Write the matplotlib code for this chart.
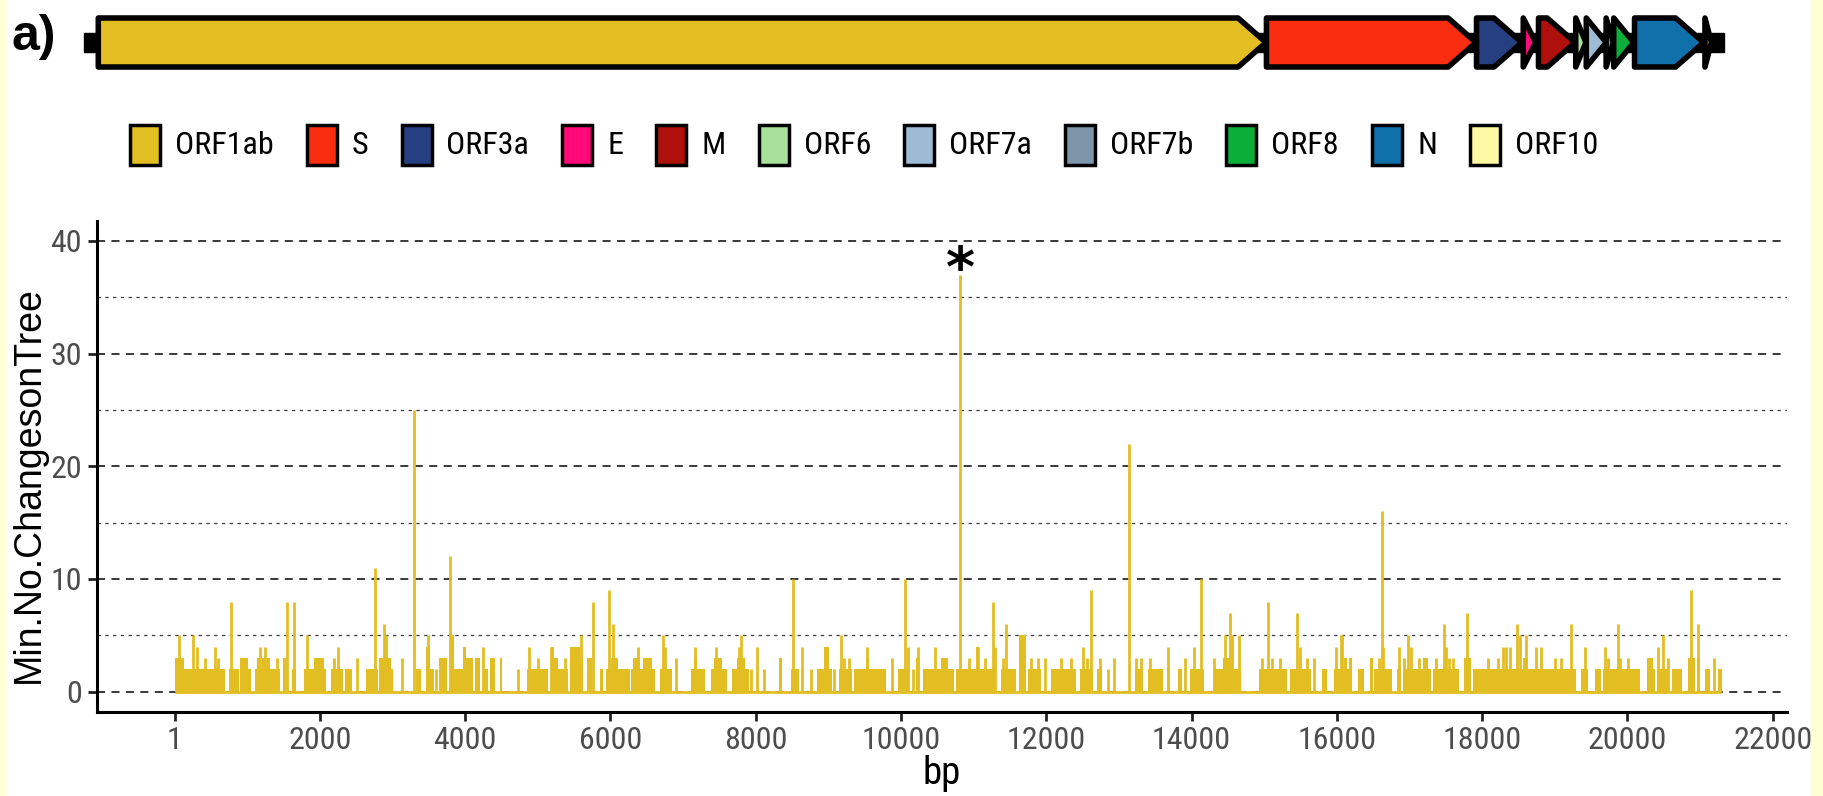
import matplotlib.pyplot as plt
from matplotlib.patches import Polygon, Rectangle

narrow = ['Roboto Condensed', 'Noto Sans Condensed', 'Liberation Sans Narrow', 'Liberation Sans']
plt.rcParams['font.family'] = narrow + ['DejaVu Sans']
plt.rcParams['lines.scale_dashes'] = False

# genome map (SARS-CoV-2 reference coordinates)
genome_len = 29903
gene_names = ['ORF1ab', 'S', 'ORF3a', 'E', 'M', 'ORF6', 'ORF7a', 'ORF7b', 'ORF8', 'N', 'ORF10']
gene_start = [266, 21563, 25393, 26245, 26523, 27202, 27394, 27756, 27894, 28274, 29558]
gene_end = [21555, 25384, 26220, 26472, 27191, 27387, 27759, 27887, 28259, 29533, 29674]
gene_colors = ['#E3BE22', '#FB2D10', '#263F80', '#FF0A78', '#B0100B', '#A8E29A',
               '#9DBBD3', '#7E96AA', '#0BAE38', '#1070AA', '#FDF8A2']

# min. number of changes on tree along ORF1ab: plateaus (start, end, height)
plateaus = [
    (1, 699, 2), (8, 123, 3), (745, 883, 2), (906, 1007, 3), (1007, 1053, 2),
    (1104, 1449, 2), (1136, 1182, 3), (1205, 1320, 3), (1495, 1537, 3), (1620, 1666, 2),
    (1781, 2089, 2), (1919, 2057, 3), (2158, 2324, 2), (2347, 2448, 2), (2632, 2803, 2),
    (2817, 2978, 3), (2978, 3010, 2), (3323, 3392, 2), (3461, 3521, 4), (3521, 3567, 2),
    (3645, 3751, 3), (3806, 3853, 5), (3853, 3968, 2), (3968, 4014, 4), (4014, 4106, 3),
    (4129, 4198, 3), (4244, 4313, 2), (4336, 4405, 3), (4474, 4506, 3), (4852, 5142, 2),
    (5187, 5417, 2), (5187, 5224, 4), (5224, 5279, 3), (5440, 5578, 4), (5578, 5624, 3),
    (5684, 5740, 3), (5855, 5901, 2), (5933, 6269, 2), (6007, 6108, 3), (6283, 6614, 2),
    (6315, 6407, 3), (6453, 6568, 3), (6683, 6845, 2), (7111, 7305, 2), (7144, 7190, 3),
    (7388, 7604, 2), (7424, 7535, 3), (7673, 7903, 2), (7742, 7857, 3), (8318, 8364, 3),
    (8479, 8594, 2), (8847, 9054, 2), (8939, 9008, 4), (9147, 9331, 2), (9354, 9791, 2),
    (9515, 9561, 3), (9952, 10113, 2), (10201, 10247, 3), (10298, 10712, 2), (10551, 10643, 3),
    (10574, 10735, 2), (10758, 11126, 2), (11034, 11071, 4), (11126, 11311, 2), (11380, 11578, 2),
    (11624, 11716, 5), (11748, 11932, 2), (12070, 12416, 2), (12462, 12646, 2), (12692, 12761, 2),
    (13221, 13336, 2), (13405, 13613, 2), (13657, 13704, 2), (13820, 13866, 2), (13981, 14165, 2),
    (14303, 14685, 2), (14432, 14547, 3), (14925, 15316, 2), (15362, 15638, 2), (15800, 15868, 2),
    (15960, 16213, 2), (16098, 16144, 3), (16167, 16213, 3), (16291, 16374, 2), (16457, 16503, 3),
    (16512, 16766, 2), (16835, 16881, 2), (16904, 17295, 2), (17180, 17249, 3), (17318, 17687, 2),
    (17746, 17848, 3), (17871, 19183, 2), (18561, 18630, 3), (19183, 19298, 2), (19367, 19459, 2),
    (19551, 19643, 2), (19666, 20173, 2), (20265, 20357, 3), (20357, 20380, 2), (20403, 20564, 2),
    (20610, 20748, 2), (20840, 20932, 3), (20955, 21000, 3), (21070, 21140, 2), (21254, 21300, 2),
]
# single sites (bp, changes)
peaks = [
    (54, 5), (248, 5), (307, 4), (413, 3), (561, 4), (593, 3), (782, 8), (1182, 4), (1251, 4),
    (1412, 3), (1541, 8), (1643, 8), (1818, 5), (2194, 3), (2255, 4), (2508, 3), (2761, 11),
    (2876, 6), (2909, 5), (3125, 3), (3300, 25), (3493, 5), (3599, 2), (3788, 12), (4244, 4),
    (4727, 2), (4879, 4), (5004, 3), (5188, 4), (5371, 3), (5601, 5), (5763, 8), (5979, 9),
    (6039, 6), (6375, 4), (6720, 5), (6752, 4), (6900, 3), (7158, 4), (7457, 4), (7765, 4),
    (7802, 5), (7936, 2), (8018, 4), (8111, 2), (8516, 10), (8640, 4), (8755, 2), (9077, 2),
    (9170, 5), (9216, 3), (9285, 3), (9538, 4), (9874, 3), (10058, 10), (10091, 4), (10159, 2),
    (10228, 4), (10473, 4), (10813, 37), (10942, 3), (11054, 4), (11150, 3), (11265, 8),
    (11297, 4), (11403, 3), (11440, 6), (11794, 3), (11886, 3), (11978, 3), (12208, 3),
    (12346, 3), (12508, 4), (12563, 3), (12614, 9), (12738, 3), (12844, 2), (12936, 3),
    (13138, 22), (13235, 3), (13299, 3), (13428, 3), (13673, 4), (13903, 3), (14036, 4),
    (14128, 10), (14312, 3), (14455, 5), (14524, 7), (14561, 5), (14658, 5), (14971, 3),
    (15054, 8), (15109, 3), (15215, 3), (15454, 7), (15491, 4), (15583, 3), (15684, 3),
    (15983, 4), (16052, 5), (16076, 5), (16581, 3), (16618, 16), (16641, 4), (16858, 4),
    (16927, 3), (16973, 5), (17019, 4), (17134, 3), (17364, 3), (17479, 6), (17502, 4),
    (17548, 3), (17594, 3), (17792, 7), (18078, 3), (18216, 3), (18285, 4), (18331, 4),
    (18377, 4), (18483, 6), (18515, 5), (18607, 5), (18745, 4), (18805, 4), (18999, 3),
    (19091, 3), (19220, 6), (19413, 4), (19689, 4), (19735, 3), (19873, 6), (19896, 3),
    (20002, 3), (20426, 4), (20495, 5), (20555, 3), (20872, 9), (20978, 6), (21186, 3),
]
orf1ab_len = gene_end[0] - gene_start[0] + 1
star_bp = 10813
x_ticks = [1] + list(range(2000, 22001, 2000))
y_ticks = [0, 10, 20, 30, 40]

W, H = 1823, 796
fig = plt.figure(figsize=(W / 100, H / 100), dpi=100)
fig.patch.set_facecolor('white')


def fx(px):
    return px / W


def fy(py):
    return 1 - py / H


# light yellow frame strips
for x0, w in [(0, 5), (1811, 12)]:
    fig.patches.append(Rectangle((fx(x0), 0), fx(w), 1, transform=fig.transFigure,
                                 color='#FFFFD4', zorder=0))

fig.text(fx(34), fy(37), 'a)', fontsize=36, fontweight='bold', ha='center', va='center',
         family='Liberation Sans')

# gene arrows
gax = fig.add_axes([fx(83.7), fy(67), fx(1723.9 - 83.7), 49 / H])
gax.set_xlim(0, genome_len)
gax.set_ylim(-1, 1)
gax.axis('off')
gax.add_patch(Rectangle((0, -0.39), genome_len, 0.78, color='black', clip_on=False))
for s, e, c in zip(gene_start, gene_end, gene_colors):
    head = min(510, e - s)
    pts = [(s, -1), (e - head, -1), (e, 0), (e - head, 1), (s, 1)]
    gax.add_patch(Polygon(pts, closed=True, fc=c, ec='black', lw=4, joinstyle='round',
                          clip_on=False))

# legend
renderer = fig.canvas.get_renderer()
x = 130
for name, c in zip(gene_names, gene_colors):
    fig.patches.append(Rectangle((fx(x), fy(165)), fx(30), 40 / H, transform=fig.transFigure,
                                 fc=c, ec='black', lw=2.5))
    t = fig.text(fx(x + 30 + 15), fy(146), name, fontsize=23, ha='left', va='center')
    x = x + 30 + 15 + t.get_window_extent(renderer).width + 33

# main panel
yellow = '#E3BE22'
ax = fig.add_axes([fx(96.5), fy(711.5), fx(1787 - 96.5), (711.5 - 221) / H])
ax.plot([1, orf1ab_len], [0, 0], color=yellow, lw=2.0, solid_capstyle='butt')
ax.bar([p[0] for p in plateaus], [p[2] for p in plateaus],
       width=[p[1] - p[0] for p in plateaus], align='edge', color=yellow, lw=0)
ax.vlines([p[0] for p in peaks], 0, [p[1] for p in peaks], color=yellow, lw=2.0)
ax.text(star_bp, 37.3, '*', ha='center', va='center', fontsize=40, fontweight='bold',
        family='DejaVu Sans')

ax.set_xlim(-1075, 22197)
ax.set_ylim(-1.76, 41.77)
ax.set_xticks(x_ticks)
ax.set_yticks(y_ticks)
ax.set_yticks([5, 15, 25, 35], minor=True)
ax.set_axisbelow(True)
ax.grid(axis='y', which='major', color='#2A2A2A', lw=1.3, linestyle=(0, (5.8, 4.6)))
ax.grid(axis='y', which='minor', color='#3A3A3A', lw=0.9, linestyle=(0, (2.4, 3.2)))
for side in ['top', 'right']:
    ax.spines[side].set_visible(False)
for side in ['left', 'bottom']:
    ax.spines[side].set_linewidth(2.2)
ax.tick_params(which='major', length=6.5, width=2, color='#222222', labelsize=23,
               labelcolor='#4D4D4D', pad=4)
ax.tick_params(which='minor', length=0)
ax.set_xlabel('bp', fontsize=28, labelpad=0)
ax.set_ylabel('Min.No.ChangesonTree', fontsize=27, family='Liberation Sans')
ax.yaxis.set_label_coords(-0.0296, 0.462)

fig.savefig('out.png', dpi=100)
